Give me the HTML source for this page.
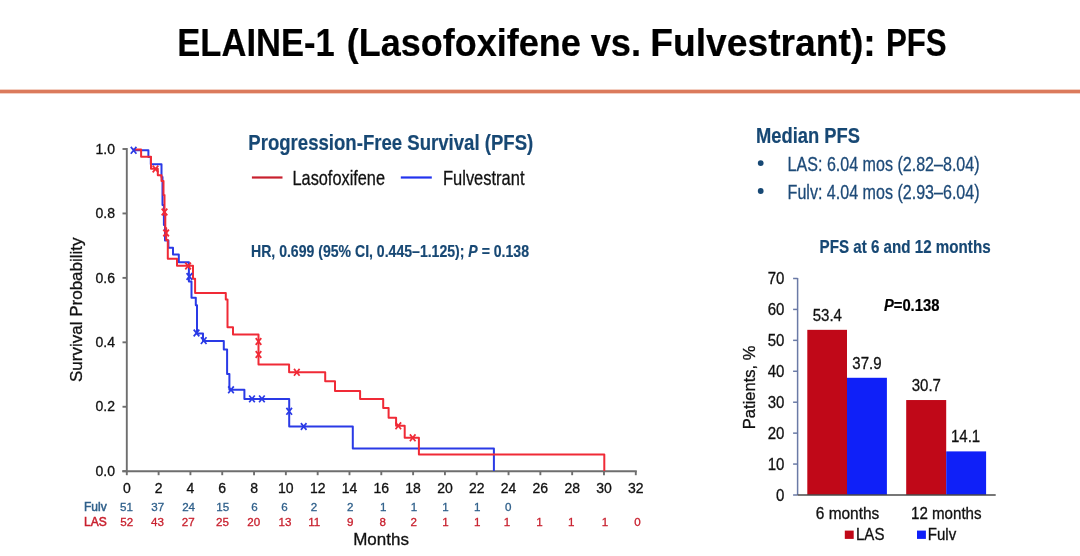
<!DOCTYPE html>
<html><head><meta charset="utf-8"><title>ELAINE-1 PFS</title>
<style>
html,body{margin:0;padding:0;background:#fff;}
body{width:1080px;height:556px;overflow:hidden;}
svg{display:block;font-family:"Liberation Sans", Arial, Helvetica, sans-serif;filter:blur(0.35px);}
</style></head>
<body>
<svg width="1080" height="556" viewBox="0 0 1080 556">
<rect width="1080" height="556" fill="#fff"/>
<text x="177.30" y="55.70" font-size="38.6" fill="#000" stroke="#000" stroke-width="0.2" font-weight="bold" textLength="157.40" lengthAdjust="spacingAndGlyphs">ELAINE-1</text>
<text x="346.70" y="55.70" font-size="38.6" fill="#000" stroke="#000" stroke-width="0.2" font-weight="bold" textLength="234.00" lengthAdjust="spacingAndGlyphs">(Lasofoxifene</text>
<text x="590.70" y="55.70" font-size="38.6" fill="#000" stroke="#000" stroke-width="0.2" font-weight="bold" textLength="50.40" lengthAdjust="spacingAndGlyphs">vs.</text>
<text x="650.30" y="55.70" font-size="38.6" fill="#000" stroke="#000" stroke-width="0.2" font-weight="bold" textLength="225.40" lengthAdjust="spacingAndGlyphs">Fulvestrant):</text>
<text x="885.90" y="55.70" font-size="38.6" fill="#000" stroke="#000" stroke-width="0.2" font-weight="bold" textLength="60.80" lengthAdjust="spacingAndGlyphs">PFS</text>
<rect x="0" y="89" width="1080" height="5" fill="#F3CFC2"/>
<rect x="0" y="90" width="1080" height="3" fill="#DB7A5C"/>
<line x1="126.80" y1="148.00" x2="126.80" y2="472.20" stroke="#6E6E6E" stroke-width="1.9"/>
<line x1="122.30" y1="471.20" x2="636.79" y2="471.20" stroke="#6E6E6E" stroke-width="1.9"/>
<line x1="122.50" y1="471.20" x2="126.80" y2="471.20" stroke="#6E6E6E" stroke-width="1.9"/>
<text x="115.00" y="475.90" font-size="14" fill="#111111" stroke="#111111" stroke-width="0.3" text-anchor="end">0.0</text>
<line x1="122.50" y1="406.76" x2="126.80" y2="406.76" stroke="#6E6E6E" stroke-width="1.9"/>
<text x="115.00" y="411.46" font-size="14" fill="#111111" stroke="#111111" stroke-width="0.3" text-anchor="end">0.2</text>
<line x1="122.50" y1="342.32" x2="126.80" y2="342.32" stroke="#6E6E6E" stroke-width="1.9"/>
<text x="115.00" y="347.02" font-size="14" fill="#111111" stroke="#111111" stroke-width="0.3" text-anchor="end">0.4</text>
<line x1="122.50" y1="277.88" x2="126.80" y2="277.88" stroke="#6E6E6E" stroke-width="1.9"/>
<text x="115.00" y="282.58" font-size="14" fill="#111111" stroke="#111111" stroke-width="0.3" text-anchor="end">0.6</text>
<line x1="122.50" y1="213.44" x2="126.80" y2="213.44" stroke="#6E6E6E" stroke-width="1.9"/>
<text x="115.00" y="218.14" font-size="14" fill="#111111" stroke="#111111" stroke-width="0.3" text-anchor="end">0.8</text>
<line x1="122.50" y1="149.00" x2="126.80" y2="149.00" stroke="#6E6E6E" stroke-width="1.9"/>
<text x="115.00" y="153.70" font-size="14" fill="#111111" stroke="#111111" stroke-width="0.3" text-anchor="end">1.0</text>
<line x1="126.80" y1="471.20" x2="126.80" y2="475.20" stroke="#6E6E6E" stroke-width="1.9"/>
<text x="126.80" y="492.70" font-size="14" fill="#111111" stroke="#111111" stroke-width="0.3" text-anchor="middle">0</text>
<line x1="158.61" y1="471.20" x2="158.61" y2="475.20" stroke="#6E6E6E" stroke-width="1.9"/>
<text x="158.61" y="492.70" font-size="14" fill="#111111" stroke="#111111" stroke-width="0.3" text-anchor="middle">2</text>
<line x1="190.42" y1="471.20" x2="190.42" y2="475.20" stroke="#6E6E6E" stroke-width="1.9"/>
<text x="190.42" y="492.70" font-size="14" fill="#111111" stroke="#111111" stroke-width="0.3" text-anchor="middle">4</text>
<line x1="222.24" y1="471.20" x2="222.24" y2="475.20" stroke="#6E6E6E" stroke-width="1.9"/>
<text x="222.24" y="492.70" font-size="14" fill="#111111" stroke="#111111" stroke-width="0.3" text-anchor="middle">6</text>
<line x1="254.05" y1="471.20" x2="254.05" y2="475.20" stroke="#6E6E6E" stroke-width="1.9"/>
<text x="254.05" y="492.70" font-size="14" fill="#111111" stroke="#111111" stroke-width="0.3" text-anchor="middle">8</text>
<line x1="285.86" y1="471.20" x2="285.86" y2="475.20" stroke="#6E6E6E" stroke-width="1.9"/>
<text x="285.86" y="492.70" font-size="14" fill="#111111" stroke="#111111" stroke-width="0.3" text-anchor="middle">10</text>
<line x1="317.67" y1="471.20" x2="317.67" y2="475.20" stroke="#6E6E6E" stroke-width="1.9"/>
<text x="317.67" y="492.70" font-size="14" fill="#111111" stroke="#111111" stroke-width="0.3" text-anchor="middle">12</text>
<line x1="349.48" y1="471.20" x2="349.48" y2="475.20" stroke="#6E6E6E" stroke-width="1.9"/>
<text x="349.48" y="492.70" font-size="14" fill="#111111" stroke="#111111" stroke-width="0.3" text-anchor="middle">14</text>
<line x1="381.30" y1="471.20" x2="381.30" y2="475.20" stroke="#6E6E6E" stroke-width="1.9"/>
<text x="381.30" y="492.70" font-size="14" fill="#111111" stroke="#111111" stroke-width="0.3" text-anchor="middle">16</text>
<line x1="413.11" y1="471.20" x2="413.11" y2="475.20" stroke="#6E6E6E" stroke-width="1.9"/>
<text x="413.11" y="492.70" font-size="14" fill="#111111" stroke="#111111" stroke-width="0.3" text-anchor="middle">18</text>
<line x1="444.92" y1="471.20" x2="444.92" y2="475.20" stroke="#6E6E6E" stroke-width="1.9"/>
<text x="444.92" y="492.70" font-size="14" fill="#111111" stroke="#111111" stroke-width="0.3" text-anchor="middle">20</text>
<line x1="476.73" y1="471.20" x2="476.73" y2="475.20" stroke="#6E6E6E" stroke-width="1.9"/>
<text x="476.73" y="492.70" font-size="14" fill="#111111" stroke="#111111" stroke-width="0.3" text-anchor="middle">22</text>
<line x1="508.54" y1="471.20" x2="508.54" y2="475.20" stroke="#6E6E6E" stroke-width="1.9"/>
<text x="508.54" y="492.70" font-size="14" fill="#111111" stroke="#111111" stroke-width="0.3" text-anchor="middle">24</text>
<line x1="540.36" y1="471.20" x2="540.36" y2="475.20" stroke="#6E6E6E" stroke-width="1.9"/>
<text x="540.36" y="492.70" font-size="14" fill="#111111" stroke="#111111" stroke-width="0.3" text-anchor="middle">26</text>
<line x1="572.17" y1="471.20" x2="572.17" y2="475.20" stroke="#6E6E6E" stroke-width="1.9"/>
<text x="572.17" y="492.70" font-size="14" fill="#111111" stroke="#111111" stroke-width="0.3" text-anchor="middle">28</text>
<line x1="603.98" y1="471.20" x2="603.98" y2="475.20" stroke="#6E6E6E" stroke-width="1.9"/>
<text x="603.98" y="492.70" font-size="14" fill="#111111" stroke="#111111" stroke-width="0.3" text-anchor="middle">30</text>
<line x1="635.79" y1="471.20" x2="635.79" y2="475.20" stroke="#6E6E6E" stroke-width="1.9"/>
<text x="635.79" y="492.70" font-size="14" fill="#111111" stroke="#111111" stroke-width="0.3" text-anchor="middle">32</text>
<text transform="translate(81.6,309.7) rotate(-90)" x="0" y="0" font-size="17" fill="#111111" stroke="#111111" stroke-width="0.3" text-anchor="middle">Survival Probability</text>
<text x="353.20" y="545.20" font-size="17" fill="#111111" stroke="#111111" stroke-width="0.3">Months</text>
<text x="84.00" y="510.90" font-size="12" fill="#2E5F8A" stroke="#2E5F8A" stroke-width="0.5">Fulv</text>
<text x="84.00" y="525.60" font-size="12" fill="#C8202E" stroke="#C8202E" stroke-width="0.5">LAS</text>
<text x="126.40" y="511.10" font-size="11.6" fill="#2E5F8A" stroke="#2E5F8A" stroke-width="0.3" text-anchor="middle">51</text>
<text x="157.70" y="511.10" font-size="11.6" fill="#2E5F8A" stroke="#2E5F8A" stroke-width="0.3" text-anchor="middle">37</text>
<text x="188.60" y="511.10" font-size="11.6" fill="#2E5F8A" stroke="#2E5F8A" stroke-width="0.3" text-anchor="middle">24</text>
<text x="222.70" y="511.10" font-size="11.6" fill="#2E5F8A" stroke="#2E5F8A" stroke-width="0.3" text-anchor="middle">15</text>
<text x="254.40" y="511.10" font-size="11.6" fill="#2E5F8A" stroke="#2E5F8A" stroke-width="0.3" text-anchor="middle">6</text>
<text x="284.40" y="511.10" font-size="11.6" fill="#2E5F8A" stroke="#2E5F8A" stroke-width="0.3" text-anchor="middle">6</text>
<text x="313.90" y="511.10" font-size="11.6" fill="#2E5F8A" stroke="#2E5F8A" stroke-width="0.3" text-anchor="middle">2</text>
<text x="350.25" y="511.10" font-size="11.6" fill="#2E5F8A" stroke="#2E5F8A" stroke-width="0.3" text-anchor="middle">2</text>
<text x="383.30" y="511.10" font-size="11.6" fill="#2E5F8A" stroke="#2E5F8A" stroke-width="0.3" text-anchor="middle">1</text>
<text x="414.10" y="511.10" font-size="11.6" fill="#2E5F8A" stroke="#2E5F8A" stroke-width="0.3" text-anchor="middle">1</text>
<text x="445.60" y="511.10" font-size="11.6" fill="#2E5F8A" stroke="#2E5F8A" stroke-width="0.3" text-anchor="middle">1</text>
<text x="477.30" y="511.10" font-size="11.6" fill="#2E5F8A" stroke="#2E5F8A" stroke-width="0.3" text-anchor="middle">1</text>
<text x="508.20" y="511.10" font-size="11.6" fill="#2E5F8A" stroke="#2E5F8A" stroke-width="0.3" text-anchor="middle">0</text>
<text x="126.80" y="525.60" font-size="11.6" fill="#C8202E" stroke="#C8202E" stroke-width="0.3" text-anchor="middle">52</text>
<text x="157.50" y="525.60" font-size="11.6" fill="#C8202E" stroke="#C8202E" stroke-width="0.3" text-anchor="middle">43</text>
<text x="188.30" y="525.60" font-size="11.6" fill="#C8202E" stroke="#C8202E" stroke-width="0.3" text-anchor="middle">27</text>
<text x="222.50" y="525.60" font-size="11.6" fill="#C8202E" stroke="#C8202E" stroke-width="0.3" text-anchor="middle">25</text>
<text x="253.75" y="525.60" font-size="11.6" fill="#C8202E" stroke="#C8202E" stroke-width="0.3" text-anchor="middle">20</text>
<text x="284.90" y="525.60" font-size="11.6" fill="#C8202E" stroke="#C8202E" stroke-width="0.3" text-anchor="middle">13</text>
<text x="314.30" y="525.60" font-size="11.6" fill="#C8202E" stroke="#C8202E" stroke-width="0.3" text-anchor="middle">11</text>
<text x="350.25" y="525.60" font-size="11.6" fill="#C8202E" stroke="#C8202E" stroke-width="0.3" text-anchor="middle">9</text>
<text x="382.70" y="525.60" font-size="11.6" fill="#C8202E" stroke="#C8202E" stroke-width="0.3" text-anchor="middle">8</text>
<text x="413.70" y="525.60" font-size="11.6" fill="#C8202E" stroke="#C8202E" stroke-width="0.3" text-anchor="middle">2</text>
<text x="445.60" y="525.60" font-size="11.6" fill="#C8202E" stroke="#C8202E" stroke-width="0.3" text-anchor="middle">1</text>
<text x="477.30" y="525.60" font-size="11.6" fill="#C8202E" stroke="#C8202E" stroke-width="0.3" text-anchor="middle">1</text>
<text x="507.10" y="525.60" font-size="11.6" fill="#C8202E" stroke="#C8202E" stroke-width="0.3" text-anchor="middle">1</text>
<text x="539.40" y="525.60" font-size="11.6" fill="#C8202E" stroke="#C8202E" stroke-width="0.3" text-anchor="middle">1</text>
<text x="571.30" y="525.60" font-size="11.6" fill="#C8202E" stroke="#C8202E" stroke-width="0.3" text-anchor="middle">1</text>
<text x="604.90" y="525.60" font-size="11.6" fill="#C8202E" stroke="#C8202E" stroke-width="0.3" text-anchor="middle">1</text>
<text x="637.60" y="525.60" font-size="11.6" fill="#C8202E" stroke="#C8202E" stroke-width="0.3" text-anchor="middle">0</text>
<path d="M 133 150.3 H 148.4 V 157 H 150.8 V 164.2 H 161.5 V 177 H 162.5 V 205 H 163.9 V 225 H 165 V 240.5 H 168.4 V 247.7 H 173 V 254.4 H 178.8 V 262.2 H 188.9 V 281.6 H 191.5 V 297.7 H 195.8 V 305.3 H 197 V 333.5 H 203 V 340.9 H 223.8 V 349.5 H 227.1 V 374 H 229.4 V 389.8 H 244.4 V 398.9 H 289.2 V 426.5 H 352.8 V 448.5 H 493.9 V 471" fill="none" stroke="#2A3AE6" stroke-width="2" stroke-linejoin="round"/>
<path d="M 133 149.6 H 141.1 V 156.7 H 151.0 V 168.8 H 157.8 V 175.3 H 161.5 V 181 H 163.5 V 195 H 164.5 V 215 H 165.3 V 228 H 166.2 V 240 H 167.8 V 258.7 H 177 V 265.7 H 193 V 278.7 H 195.1 V 293.1 H 225.8 V 299.6 H 227.5 V 327.3 H 233 V 334.6 H 258.5 V 364.4 H 289.1 V 372.3 H 325.2 V 381.2 H 335 V 390.9 H 360.1 V 399.1 H 383.2 V 408.1 H 388.6 V 417.7 H 396.1 V 425.8 H 404.7 V 437.8 H 418.9 V 454.6 H 604.3 V 471" fill="none" stroke="#F02A36" stroke-width="2" stroke-linejoin="round"/>
<path d="M 130.80 146.90 L 136.40 153.70 M 136.40 146.90 L 130.80 153.70" stroke="#2A3AE6" stroke-width="1.7" fill="none"/>
<path d="M 186.60 273.10 L 192.20 279.90 M 192.20 273.10 L 186.60 279.90" stroke="#2A3AE6" stroke-width="1.7" fill="none"/>
<path d="M 193.70 329.60 L 199.30 336.40 M 199.30 329.60 L 193.70 336.40" stroke="#2A3AE6" stroke-width="1.7" fill="none"/>
<path d="M 200.90 337.20 L 206.50 344.00 M 206.50 337.20 L 200.90 344.00" stroke="#2A3AE6" stroke-width="1.7" fill="none"/>
<path d="M 228.20 386.40 L 233.80 393.20 M 233.80 386.40 L 228.20 393.20" stroke="#2A3AE6" stroke-width="1.7" fill="none"/>
<path d="M 249.20 395.50 L 254.80 402.30 M 254.80 395.50 L 249.20 402.30" stroke="#2A3AE6" stroke-width="1.7" fill="none"/>
<path d="M 259.10 395.50 L 264.70 402.30 M 264.70 395.50 L 259.10 402.30" stroke="#2A3AE6" stroke-width="1.7" fill="none"/>
<path d="M 286.40 407.90 L 292.00 414.70 M 292.00 407.90 L 286.40 414.70" stroke="#2A3AE6" stroke-width="1.7" fill="none"/>
<path d="M 300.90 423.10 L 306.50 429.90 M 306.50 423.10 L 300.90 429.90" stroke="#2A3AE6" stroke-width="1.7" fill="none"/>
<path d="M 152.70 165.60 L 158.30 172.40 M 158.30 165.60 L 152.70 172.40" stroke="#F02A36" stroke-width="1.7" fill="none"/>
<path d="M 161.70 208.60 L 167.30 215.40 M 167.30 208.60 L 161.70 215.40" stroke="#F02A36" stroke-width="1.7" fill="none"/>
<path d="M 163.30 229.60 L 168.90 236.40 M 168.90 229.60 L 163.30 236.40" stroke="#F02A36" stroke-width="1.7" fill="none"/>
<path d="M 185.30 262.60 L 190.90 269.40 M 190.90 262.60 L 185.30 269.40" stroke="#F02A36" stroke-width="1.7" fill="none"/>
<path d="M 255.70 338.10 L 261.30 344.90 M 261.30 338.10 L 255.70 344.90" stroke="#F02A36" stroke-width="1.7" fill="none"/>
<path d="M 255.70 351.10 L 261.30 357.90 M 261.30 351.10 L 255.70 357.90" stroke="#F02A36" stroke-width="1.7" fill="none"/>
<path d="M 294.00 368.90 L 299.60 375.70 M 299.60 368.90 L 294.00 375.70" stroke="#F02A36" stroke-width="1.7" fill="none"/>
<path d="M 395.50 422.40 L 401.10 429.20 M 401.10 422.40 L 395.50 429.20" stroke="#F02A36" stroke-width="1.7" fill="none"/>
<path d="M 409.90 434.40 L 415.50 441.20 M 415.50 434.40 L 409.90 441.20" stroke="#F02A36" stroke-width="1.7" fill="none"/>
<text x="248.30" y="150.10" font-size="22.4" fill="#174874" stroke="#174874" stroke-width="0.2" font-weight="bold" textLength="285.00" lengthAdjust="spacingAndGlyphs">Progression-Free Survival (PFS)</text>
<line x1="251.9" y1="177.5" x2="282.5" y2="177.5" stroke="#C8202E" stroke-width="2.2"/>
<line x1="400.8" y1="177.5" x2="431.8" y2="177.5" stroke="#2233EE" stroke-width="2.2"/>
<text x="292.50" y="184.80" font-size="20.3" fill="#111111" stroke="#111111" stroke-width="0.3" textLength="92.50" lengthAdjust="spacingAndGlyphs">Lasofoxifene</text>
<text x="443.00" y="184.80" font-size="20.3" fill="#111111" stroke="#111111" stroke-width="0.3" textLength="81.50" lengthAdjust="spacingAndGlyphs">Fulvestrant</text>
<text x="251" y="257.2" font-size="16.5" font-weight="bold" fill="#174874" stroke="#174874" stroke-width="0.2" textLength="278" lengthAdjust="spacingAndGlyphs">HR, 0.699 (95% CI, 0.445–1.125); <tspan font-style="italic">P</tspan> = 0.138</text>
<text x="756.00" y="142.90" font-size="22.9" fill="#174874" stroke="#174874" stroke-width="0.2" font-weight="bold" textLength="104.00" lengthAdjust="spacingAndGlyphs">Median PFS</text>
<circle cx="760.7" cy="163.1" r="2.9" fill="#174874"/>
<circle cx="760.7" cy="191.0" r="2.9" fill="#174874"/>
<text x="787.60" y="171.10" font-size="20.2" fill="#1D4A78" stroke="#1D4A78" stroke-width="0.3" textLength="192.00" lengthAdjust="spacingAndGlyphs">LAS: 6.04 mos (2.82–8.04)</text>
<text x="787.60" y="198.70" font-size="20.2" fill="#1D4A78" stroke="#1D4A78" stroke-width="0.3" textLength="192.00" lengthAdjust="spacingAndGlyphs">Fulv: 4.04 mos (2.93–6.04)</text>
<text x="819.60" y="252.60" font-size="17.9" fill="#174874" stroke="#174874" stroke-width="0.2" font-weight="bold" textLength="171.00" lengthAdjust="spacingAndGlyphs">PFS at 6 and 12 months</text>
<line x1="797.6" y1="277.99" x2="797.6" y2="495.00" stroke="#6A7AA6" stroke-width="1.5"/>
<line x1="793.10" y1="495.00" x2="797.60" y2="495.00" stroke="#6A7AA6" stroke-width="1.5"/>
<text transform="translate(784.40,500.50) scale(0.89,1)" x="0" y="0" font-size="16.9" fill="#111111" stroke="#111111" stroke-width="0.3" text-anchor="end">0</text>
<line x1="793.10" y1="464.07" x2="797.60" y2="464.07" stroke="#6A7AA6" stroke-width="1.5"/>
<text transform="translate(784.40,469.50) scale(0.89,1)" x="0" y="0" font-size="16.9" fill="#111111" stroke="#111111" stroke-width="0.3" text-anchor="end">10</text>
<line x1="793.10" y1="433.14" x2="797.60" y2="433.14" stroke="#6A7AA6" stroke-width="1.5"/>
<text transform="translate(784.40,438.50) scale(0.89,1)" x="0" y="0" font-size="16.9" fill="#111111" stroke="#111111" stroke-width="0.3" text-anchor="end">20</text>
<line x1="793.10" y1="402.21" x2="797.60" y2="402.21" stroke="#6A7AA6" stroke-width="1.5"/>
<text transform="translate(784.40,407.50) scale(0.89,1)" x="0" y="0" font-size="16.9" fill="#111111" stroke="#111111" stroke-width="0.3" text-anchor="end">30</text>
<line x1="793.10" y1="371.28" x2="797.60" y2="371.28" stroke="#6A7AA6" stroke-width="1.5"/>
<text transform="translate(784.40,376.50) scale(0.89,1)" x="0" y="0" font-size="16.9" fill="#111111" stroke="#111111" stroke-width="0.3" text-anchor="end">40</text>
<line x1="793.10" y1="340.35" x2="797.60" y2="340.35" stroke="#6A7AA6" stroke-width="1.5"/>
<text transform="translate(784.40,345.50) scale(0.89,1)" x="0" y="0" font-size="16.9" fill="#111111" stroke="#111111" stroke-width="0.3" text-anchor="end">50</text>
<line x1="793.10" y1="309.42" x2="797.60" y2="309.42" stroke="#6A7AA6" stroke-width="1.5"/>
<text transform="translate(784.40,314.50) scale(0.89,1)" x="0" y="0" font-size="16.9" fill="#111111" stroke="#111111" stroke-width="0.3" text-anchor="end">60</text>
<line x1="793.10" y1="278.49" x2="797.60" y2="278.49" stroke="#6A7AA6" stroke-width="1.5"/>
<text transform="translate(784.40,283.50) scale(0.89,1)" x="0" y="0" font-size="16.9" fill="#111111" stroke="#111111" stroke-width="0.3" text-anchor="end">70</text>
<rect x="807.3" y="329.83" width="39.70" height="165.17" fill="#C00818"/>
<rect x="847.0" y="377.78" width="39.90" height="117.22" fill="#0F20F8"/>
<rect x="906.2" y="400.04" width="40.00" height="94.96" fill="#C00818"/>
<rect x="946.2" y="451.39" width="39.90" height="43.61" fill="#0F20F8"/>
<line x1="797.60" y1="495.00" x2="995.7" y2="495.00" stroke="#4a4a4a" stroke-width="1.4"/>
<text transform="translate(827.30,320.90) scale(0.89,1)" x="0" y="0" font-size="16.9" fill="#111111" stroke="#111111" stroke-width="0.3" text-anchor="middle">53.4</text>
<text transform="translate(867.00,368.90) scale(0.89,1)" x="0" y="0" font-size="16.9" fill="#111111" stroke="#111111" stroke-width="0.3" text-anchor="middle">37.9</text>
<text transform="translate(926.30,390.90) scale(0.89,1)" x="0" y="0" font-size="16.9" fill="#111111" stroke="#111111" stroke-width="0.3" text-anchor="middle">30.7</text>
<text transform="translate(965.60,442.30) scale(0.89,1)" x="0" y="0" font-size="16.9" fill="#111111" stroke="#111111" stroke-width="0.3" text-anchor="middle">14.1</text>
<text x="883.9" y="310.9" font-size="15.6" font-weight="bold" fill="#000" stroke="#000" stroke-width="0.2" textLength="55.5" lengthAdjust="spacingAndGlyphs"><tspan font-style="italic">P</tspan>=0.138</text>
<text transform="translate(754.6,387.4) rotate(-90)" x="0" y="0" font-size="16.5" fill="#111111" stroke="#111111" stroke-width="0.3" text-anchor="middle">Patients, %</text>
<text transform="translate(847.50,518.80) scale(0.965,1)" x="0" y="0" font-size="16.0" fill="#111111" stroke="#111111" stroke-width="0.3" text-anchor="middle">6 months</text>
<text transform="translate(946.30,518.80) scale(0.945,1)" x="0" y="0" font-size="16.0" fill="#111111" stroke="#111111" stroke-width="0.3" text-anchor="middle">12 months</text>
<rect x="844.8" y="530.6" width="8.9" height="8.3" fill="#C00818"/>
<rect x="917.0" y="530.6" width="8.9" height="8.3" fill="#0F20F8"/>
<text transform="translate(856.00,539.80) scale(0.94,1)" x="0" y="0" font-size="16.0" fill="#111111" stroke="#111111" stroke-width="0.3">LAS</text>
<text transform="translate(927.80,539.80) scale(0.94,1)" x="0" y="0" font-size="16.0" fill="#111111" stroke="#111111" stroke-width="0.3">Fulv</text>
</svg>
</body></html>
